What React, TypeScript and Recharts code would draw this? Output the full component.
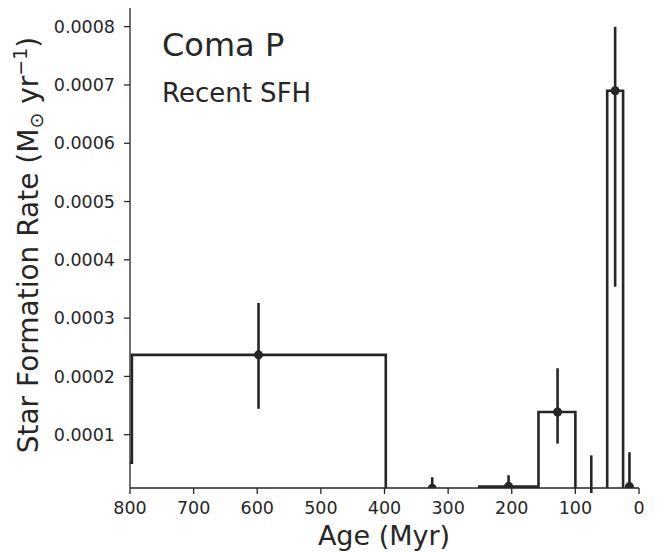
import { ComposedChart, Line, Scatter, ErrorBar, XAxis, YAxis } from 'recharts'

// bin edges (Myr, oldest first) and the SFR of each bin
const binEdges = [1000, 797, 398, 251, 158, 100, 50, 25, 0]
const binSfr = [0.000052, 0.000237, 0.000004, 0.000011, 0.000139, 0.000001, 0.00069, 0.000003]

// error-bar points: age, value, lower and upper ends of the bar
const ptAge = [598, 325, 205, 128, 75, 37.5, 15]
const ptSfr = [0.000237, 0.000008, 0.0000115, 0.000139, 0, 0.00069, 0.000011]
const ptLo = [0.0001445, 0.000008, 0.0000115, 0.0000846, 0, 0.000354, 0.000011]
const ptHi = [0.000326, 0.000027, 0.0000305, 0.000214, 0.0000646, 0.0008, 0.00007]

const xTicks = [800, 700, 600, 500, 400, 300, 200, 100, 0]
const yTicks = [0.0001, 0.0002, 0.0003, 0.0004, 0.0005, 0.0006, 0.0007, 0.0008]

const FONT = '"DejaVu Sans", sans-serif'
const INK = '#262626'
const tickStyle = { fill: INK, fontSize: 17.5, fontFamily: FONT, fontWeight: 400 }

const stepData = binSfr.flatMap((v, i) => [
  { age: binEdges[i], sfr: v },
  { age: binEdges[i + 1], sfr: v },
])

const pointData = ptAge.map((a, i) => ({
  age: a,
  sfr: ptSfr[i],
  err: [ptSfr[i] - ptLo[i], ptHi[i] - ptSfr[i]],
}))

const Dot = (props: any) => <circle cx={props.cx} cy={props.cy} r={4.5} fill={INK} />

export default function App() {
  return (
    <div style={{ position: 'absolute', left: 0, top: 0, width: 657, height: 552, fontFamily: FONT }}>
      <ComposedChart width={657} height={552} margin={{ top: 8, right: 18, bottom: 0, left: 0 }}>
        <XAxis
          dataKey="age"
          type="number"
          domain={[0, 800]}
          reversed
          allowDataOverflow
          ticks={xTicks}
          height={64}
          tickSize={6}
          tickMargin={8}
          stroke={INK}
          strokeWidth={1.3}
          tick={tickStyle}
        />
        <XAxis xAxisId="top" orientation="top" type="number" domain={[0, 800]} reversed height={0} tick={false} tickLine={false} stroke={INK} strokeWidth={1.3} />
        <YAxis
          type="number"
          domain={[0.0000086, 0.000832]}
          allowDataOverflow
          ticks={yTicks}
          width={130}
          tickSize={6}
          tickMargin={9}
          stroke={INK}
          strokeWidth={1.3}
          tick={tickStyle}
          tickFormatter={(v: number) => v.toFixed(4)}
        />
        <YAxis yAxisId="right" orientation="right" width={0} tick={false} tickLine={false} stroke={INK} strokeWidth={1.3} />
        <Line
          data={stepData}
          dataKey="sfr"
          type="linear"
          stroke={INK}
          strokeWidth={2.6}
          dot={false}
          isAnimationActive={false}
        />
        <Scatter data={pointData} dataKey="sfr" shape={Dot} isAnimationActive={false}>
          <ErrorBar dataKey="err" direction="y" width={0} stroke={INK} strokeWidth={2.6} isAnimationActive={false} />
        </Scatter>
      </ComposedChart>
      <svg width={657} height={552} style={{ position: 'absolute', left: 0, top: 0, pointerEvents: 'none' }}>
        <text x={162} y={56} fontSize={32} fill={INK}>Coma P</text>
        <text x={162} y={102} fontSize={26} fill={INK}>Recent SFH</text>
        <text x={384} y={545} fontSize={27} fill={INK} textAnchor="middle">Age (Myr)</text>
        <text transform="translate(38, 245) rotate(-90)" fontSize={28} fill={INK} textAnchor="middle">
          Star Formation Rate (M<tspan fontSize={19} dy={5}>⊙</tspan>
          <tspan dy={-5}> yr</tspan>
          <tspan fontSize={19} dy={-11}>−1</tspan>
          <tspan dy={11}>)</tspan>
        </text>
      </svg>
    </div>
  )
}
